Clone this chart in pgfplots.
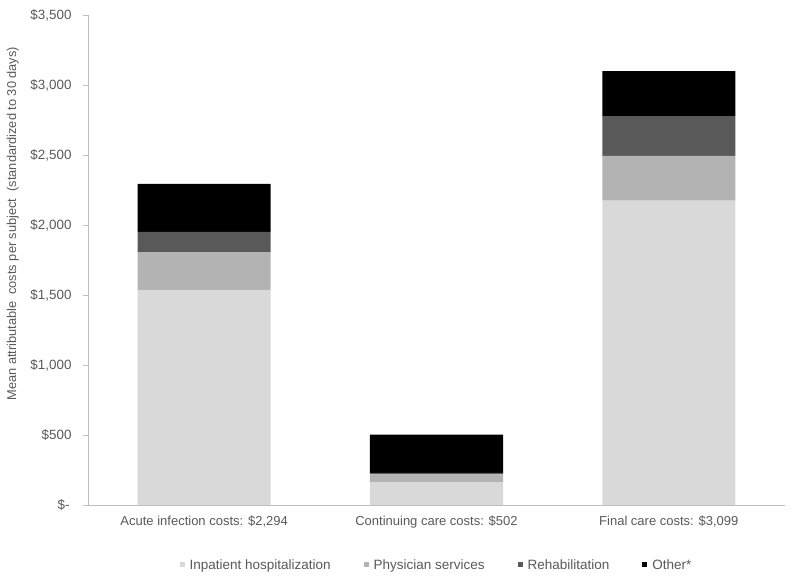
\documentclass[border=0pt]{standalone}
\usepackage{pgfplots}
\pgfplotsset{compat=1.18}
\usepackage{fontspec}
\setmainfont{Liberation Sans}
\definecolor{inp}{HTML}{D9D9D9}
\definecolor{phy}{HTML}{B3B3B3}
\definecolor{reh}{HTML}{595959}
\definecolor{oth}{HTML}{000000}
\definecolor{txt}{HTML}{595959}
\definecolor{axl}{HTML}{BFBFBF}
\begin{document}
\begin{tikzpicture}
\useasboundingbox (-88pt,-72pt) rectangle (705pt,505pt);
\begin{axis}[
  at={(0pt,0pt)}, anchor=south west,
  scale only axis, width=697pt, height=490pt,
  ybar stacked, bar width=133pt,
  xmin=-0.5, xmax=2.5, ymin=0, ymax=3500,
  xtick={0,1,2},
  xticklabels={{Acute infection costs: \$2,294}, {Continuing care costs: \$502}, {Final care costs: \$3,099}},
  ytick={0,500,1000,1500,2000,2500,3000,3500},
  yticklabels={{\$-\kern2pt}, {\$500}, {\$1,000}, {\$1,500}, {\$2,000}, {\$2,500}, {\$3,000}, {\$3,500}},
  axis x line*=bottom, axis y line*=left,
  axis line style={axl, line width=0.8pt},
  x axis line style={-}, y axis line style={-},
  major x tick style={draw=none},
  major y tick style={axl, line width=0.8pt},
  tick align=outside, major tick length=5pt,
  ticklabel style={font=\fontsize{13}{15}\selectfont, text=txt},
  yticklabel style={xshift=-8pt, font=\fontsize{13.4}{15}\selectfont},
  xticklabel style={yshift=-2pt},
  ylabel={Mean attributable\ \ costs per subject\ \ (standardized to 30 days)},
  ylabel style={font=\fontsize{12.8}{14}\selectfont, text=txt, at={(axis description cs:-0.108,0.574)}, anchor=center},
  legend style={at={(0.5,-60pt)}, anchor=center, legend columns=4, draw=none, font=\fontsize{13.5}{15}\selectfont, text=txt,
    /tikz/every odd column/.append style={column sep=3pt},
    /tikz/every even column/.append style={column sep=31pt}},
  legend cell align=left,
  legend image code/.code={\fill[#1] (0pt,-2.5pt) rectangle (5pt,2.5pt);},
]
\addplot[fill=inp, draw=none] coordinates {(0,1536) (1,164) (2,2174)};
\addplot[fill=phy, draw=none] coordinates {(0,271) (1,55) (2,319)};
\addplot[fill=reh, draw=none] coordinates {(0,143) (1,10) (2,281)};
\addplot[fill=oth, draw=none] coordinates {(0,344) (1,273) (2,325)};
\legend{Inpatient hospitalization, Physician services, Rehabilitation, Other*}
\end{axis}
\end{tikzpicture}
\end{document}
